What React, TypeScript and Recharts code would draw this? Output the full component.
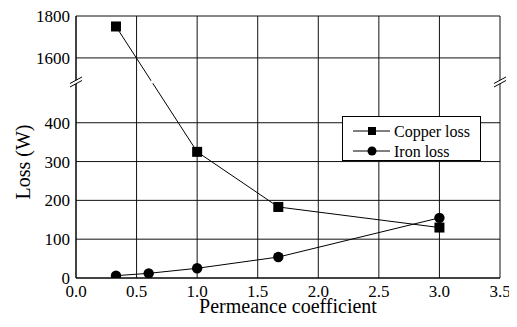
import {
  ComposedChart,
  Line,
  XAxis,
  YAxis,
  CartesianGrid,
  ReferenceDot,
  Label,
} from 'recharts';

// measured values
const copperX = [0.33, 1.0, 1.67, 3.0];
const copperLoss = [1750, 325, 183, 130];
const ironX = [0.33, 0.6, 1.0, 1.67, 3.0];
const ironLoss = [6, 12, 25, 54, 155];

const xTicks = [0, 0.5, 1.0, 1.5, 2.0, 2.5, 3.0, 3.5];
const yTickLabels = [0, 100, 200, 300, 400, 1600, 1800];

// broken axis: 0-400 linear, gap, then 1600-1800 compressed
const LOW_TOP = 400;
const HIGH_START = 567;
const HIGH_K = 0.54;
const BREAK_AT = 505;

const toDisplay = (v: number) => {
  if (v <= LOW_TOP) return v;
  if (v >= 1600) return HIGH_START + (v - 1600) * HIGH_K;
  return LOW_TOP + ((v - LOW_TOP) / 1200) * (HIGH_START - LOW_TOP);
};
const fromDisplay = (d: number) => {
  if (d <= LOW_TOP) return d;
  if (d >= HIGH_START) return 1600 + (d - HIGH_START) / HIGH_K;
  return LOW_TOP + ((d - LOW_TOP) / (HIGH_START - LOW_TOP)) * 1200;
};

const copperData = copperX.map((x, i) => ({ x, y: toDisplay(copperLoss[i]) }));
const ironData = ironX.map((x, i) => ({ x, y: toDisplay(ironLoss[i]) }));
const yTicks = yTickLabels.map(toDisplay);

// where the copper line crosses the break
const c0 = copperData[0];
const c1 = copperData[1];
const breakT = (c0.y - BREAK_AT) / (c0.y - c1.y);
const lineBreakX = c0.x + breakT * (c1.x - c0.x);

const FONT = '"Liberation Serif", "Times New Roman", serif';

const Square = (props: any) => {
  const { cx, cy, index } = props;
  if (cx == null || cy == null) return <g key={index} />;
  return <rect key={index} x={cx - 5} y={cy - 5} width={10} height={10} fill="#000" />;
};

const Circle = (props: any) => {
  const { cx, cy, index } = props;
  if (cx == null || cy == null) return <g key={index} />;
  return <circle key={index} cx={cx} cy={cy} r={5.2} fill="#000" />;
};

const AxisBreak = (props: any) => {
  const { cx, cy } = props;
  return (
    <g>
      <polygon
        points={`${cx - 6},${cy + 1.5} ${cx + 6},${cy - 5} ${cx + 6},${cy - 1.5} ${cx - 6},${cy + 5}`}
        fill="#fff"
      />
      <line x1={cx - 6} y1={cy + 1.5} x2={cx + 6} y2={cy - 5} stroke="#000" strokeWidth={1} />
      <line x1={cx - 6} y1={cy + 5} x2={cx + 6} y2={cy - 1.5} stroke="#000" strokeWidth={1} />
    </g>
  );
};

const LineBreak = (props: any) => {
  const { cx, cy } = props;
  return (
    <polygon
      points={`${cx - 4},${cy + 0.5} ${cx + 4},${cy - 4} ${cx + 4},${cy - 0.5} ${cx - 4},${cy + 4}`}
      fill="#fff"
    />
  );
};

const LegendBox = () => (
  <div
    style={{
      position: 'absolute',
      left: 342,
      top: 116,
      border: '1px solid #000',
      background: '#fff',
      width: 139,
      height: 45,
      boxSizing: 'border-box',
    }}
  >
    <svg width={137} height={43} style={{ display: 'block' }}>
      <line x1={10} y1={14} x2={47} y2={14} stroke="#000" />
      <rect x={25} y={10} width={8} height={8} fill="#000" />
      <text x={51} y={20} fontFamily={FONT} fontSize={16} fill="#000">
        Copper loss
      </text>
      <line x1={10} y1={34} x2={47} y2={34} stroke="#000" />
      <circle cx={29} cy={34} r={4.5} fill="#000" />
      <text x={51} y={40} fontFamily={FONT} fontSize={16} fill="#000">
        Iron loss
      </text>
    </svg>
  </div>
);

export default function App() {
  return (
    <div
      style={{
        position: 'relative',
        marginTop: -8,
        marginLeft: -8,
        background: '#fff',
        width: 517,
        height: 327,
      }}
    >
      <ComposedChart
        width={517}
        height={327}
        margin={{ top: 16, right: 17, bottom: 0, left: 0 }}
        style={{ fontFamily: FONT }}
      >
        <CartesianGrid stroke="#111" strokeWidth={1} />
        <XAxis
          type="number"
          dataKey="x"
          domain={[0, 3.5]}
          ticks={xTicks}
          tickFormatter={(v: number) => v.toFixed(1)}
          tickLine={false}
          tickMargin={1}
          axisLine={{ stroke: '#000' }}
          tick={{ fill: '#000', fontSize: 17, fontFamily: FONT }}
          height={49}
          allowDataOverflow
        >
          <Label
            content={({ viewBox }: any) => (
              <text
                x={viewBox.x + viewBox.width / 2}
                y={viewBox.y + 35}
                textAnchor="middle"
                fontFamily={FONT}
                fontSize={20}
                fill="#000"
              >
                Permeance coefficient
              </text>
            )}
          />
        </XAxis>
        <YAxis
          type="number"
          domain={[0, toDisplay(1800)]}
          ticks={yTicks}
          tickFormatter={(v: number) => String(Math.round(fromDisplay(v)))}
          tickLine={false}
          tickMargin={0}
          axisLine={{ stroke: '#000' }}
          tick={{ fill: '#000', fontSize: 17, fontFamily: FONT }}
          width={76}
          allowDataOverflow
        >
          <Label
            content={({ viewBox }: any) => {
              const x = 30;
              const y = viewBox.y + viewBox.height / 2 + 15;
              return (
                <text
                  x={x}
                  y={y}
                  transform={`rotate(-90 ${x} ${y})`}
                  textAnchor="middle"
                  fontFamily={FONT}
                  fontSize={20}
                  fill="#000"
                >
                  Loss (W)
                </text>
              );
            }}
          />
        </YAxis>
        <Line
          data={copperData}
          dataKey="y"
          stroke="#000"
          strokeWidth={1}
          dot={Square}
          activeDot={false}
          isAnimationActive={false}
          name="Copper loss"
        />
        <Line
          data={ironData}
          dataKey="y"
          stroke="#000"
          strokeWidth={1}
          dot={Circle}
          activeDot={false}
          isAnimationActive={false}
          name="Iron loss"
        />
        <ReferenceDot x={lineBreakX} y={BREAK_AT} ifOverflow="visible" shape={LineBreak} />
        <ReferenceDot x={0} y={BREAK_AT} ifOverflow="visible" shape={AxisBreak} />
        <ReferenceDot x={3.5} y={BREAK_AT} ifOverflow="visible" shape={AxisBreak} />
      </ComposedChart>
      <LegendBox />
    </div>
  );
}
